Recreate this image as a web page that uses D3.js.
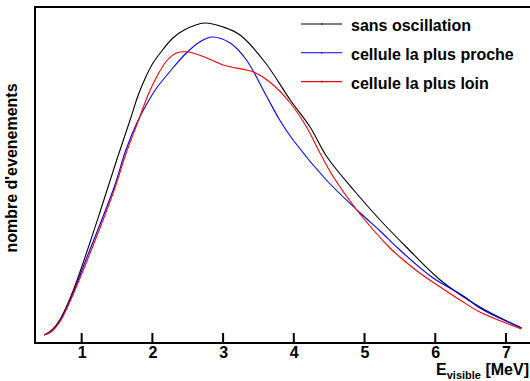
<!DOCTYPE html>
<html>
<head>
    <meta charset="utf-8" />
    <script src="https://d3js.org/d3.v7.min.js"></script>
    <style>
        body { margin: 0; background: #fff; }
        text { font-family: "Liberation Sans", Arial, sans-serif; font-weight: bold; }
    </style>
</head>
<body>
<svg id="chart" width="530" height="381"></svg>
<script>
    // spectra (arbitrary units)
    var eSans = [0.47, 0.58, 0.69, 0.85, 1.0, 1.25, 1.5, 1.68, 1.8, 1.9, 2.0, 2.11, 2.29, 2.45, 2.74, 3.0, 3.24, 3.59, 3.95, 4.23, 4.47, 4.87, 5.22, 5.59, 6.07, 6.63, 7.22];
    var nSans = [8, 13, 23, 47, 76, 129, 184, 222, 248, 265, 279, 290, 305, 313, 320, 316, 308, 281, 243, 216, 186, 151, 123, 96, 63, 36, 15];

    var eProche = [0.47, 0.58, 0.69, 0.85, 1.02, 1.46, 1.62, 1.78, 1.92, 2.06, 2.29, 2.48, 2.67, 2.84, 3.1, 3.33, 3.59, 3.8, 3.99, 4.46, 4.94, 5.22, 5.5, 5.95, 6.42, 6.63, 7.22];
    var nProche = [8, 12, 22, 45, 76, 156, 192, 220, 239, 255, 275, 290, 301, 306, 300, 283, 250, 223, 203, 163, 130, 112, 93, 66, 46, 35, 15];

    var eLoin = [0.47, 0.58, 0.69, 0.85, 1.04, 1.46, 1.62, 1.8, 1.95, 2.06, 2.2, 2.34, 2.51, 2.77, 3.0, 3.33, 3.43, 3.66, 3.95, 4.18, 4.37, 4.56, 4.89, 5.36, 5.5, 5.78, 6.07, 6.35, 6.63, 7.22];
    var nLoin = [8, 12, 21, 44, 76, 153, 188, 222, 250, 266, 282, 290, 291, 285, 278, 273, 271, 261, 240, 216, 190, 166, 133, 95, 86, 70, 56, 43, 31, 14];

    var xTicks = [1, 2, 3, 4, 5, 6, 7];
    var legendLabels = ["sans oscillation", "cellule la plus proche", "cellule la plus loin"];
    var colours = ["#000000", "#0000ff", "#ff0000"];

    var svg = d3.select("#chart");

    var mLeft = 35, mRight = 530, mTop = 7, mBottom = 343;

    var x = d3.scaleLinear().domain([0.34, 7.34]).range([mLeft, mRight]);
    var y = d3.scaleLinear().domain([0, 336]).range([mBottom, mTop]);

    // frame: top and left lines
    svg.append("rect")
        .attr("x", mLeft - 1).attr("y", mTop - 1)
        .attr("width", mRight - mLeft + 1).attr("height", 2)
        .attr("fill", "#000");
    svg.append("rect")
        .attr("x", mLeft - 1).attr("y", mTop - 1)
        .attr("width", 2).attr("height", mBottom - mTop + 2)
        .attr("fill", "#000");

    // x axis: labels only, the bottom line and the ticks are drawn below
    var xAxis = d3.axisBottom(x)
        .tickValues(xTicks)
        .tickFormat(d3.format("d"))
        .tickSize(0)
        .tickPadding(4);

    var gx = svg.append("g")
        .attr("transform", "translate(0," + mBottom + ")")
        .call(xAxis);
    gx.select(".domain").remove();
    gx.selectAll(".tick text")
        .attr("font-size", 16)
        .attr("font-family", "Liberation Sans, Arial, sans-serif")
        .attr("font-weight", "bold")
        .attr("fill", "#000");

    svg.append("rect")
        .attr("x", mLeft - 1).attr("y", mBottom - 1)
        .attr("width", mRight - mLeft + 1).attr("height", 2)
        .attr("fill", "#000");

    // ticks pointing up into the plot
    var tickPath = xTicks.map(d => "M" + x(d) + "," + mBottom + "V" + (mBottom - 10)).join("");
    svg.append("path")
        .attr("d", tickPath)
        .attr("stroke", "#000")
        .attr("stroke-width", 2)
        .attr("fill", "none");

    // axis titles
    var xt = svg.append("text")
        .attr("x", 529)
        .attr("y", 375)
        .attr("text-anchor", "end")
        .attr("font-size", 16);
    xt.append("tspan").text("E");
    xt.append("tspan").attr("font-size", 11).attr("dy", 4).text("visible");
    xt.append("tspan").attr("dy", -4).text(" [MeV]");

    svg.append("text")
        .attr("transform", "translate(16.5,168) rotate(-90)")
        .attr("text-anchor", "middle")
        .attr("font-size", 16)
        .text("nombre d'evenements");

    // curves
    var line = d3.line()
        .x(d => x(d[0]))
        .y(d => y(d[1]))
        .curve(d3.curveCatmullRom.alpha(0.5));

    var series = [
        d3.zip(eSans, nSans),
        d3.zip(eProche, nProche),
        d3.zip(eLoin, nLoin)
    ];

    svg.selectAll(".curve")
        .data(series)
        .enter().append("path")
        .attr("class", "curve")
        .attr("d", line)
        .attr("fill", "none")
        .attr("stroke", (d, i) => colours[i])
        .attr("stroke-width", 1.1);

    // legend
    var legend = svg.selectAll(".leg")
        .data(legendLabels)
        .enter().append("g")
        .attr("class", "leg")
        .attr("transform", (d, i) => "translate(301," + (24 + i * 28.8) + ")");

    legend.append("line")
        .attr("x1", 0).attr("x2", 41)
        .attr("stroke", (d, i) => colours[i])
        .attr("stroke-width", 1.1);
    legend.append("rect")
        .attr("x", 20).attr("y", -0.8)
        .attr("width", 1.5).attr("height", 1.6)
        .attr("fill", "#333");
    legend.append("text")
        .attr("x", 50)
        .attr("y", 7)
        .attr("font-size", 16)
        .text(d => d);
</script>
</body>
</html>
